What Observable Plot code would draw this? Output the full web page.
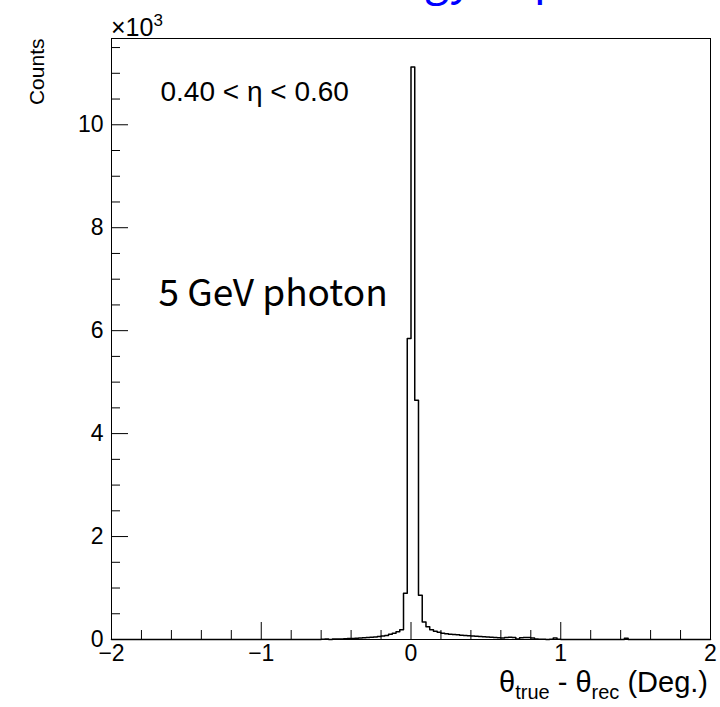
<!DOCTYPE html>
<html><head><meta charset="utf-8">
<script src="https://cdn.jsdelivr.net/npm/d3@7"></script>
<script src="https://cdn.jsdelivr.net/npm/@observablehq/plot@0.6"></script>
<style>
body{margin:0;background:#fff;}
#chart{position:relative;width:720px;height:707px;overflow:hidden;}
</style>
</head><body><div id="chart"></div>
<script>
// Histogram binning
const binWidth = 0.025;
const xRange = [-2, 2];
// Non-zero bins (low edge) and their counts
const binLow = [-0.6,-0.575,-0.525,-0.5,-0.475,-0.45,-0.425,-0.4,-0.375,-0.35,-0.325,-0.3,-0.275,-0.25,-0.225,-0.2,-0.175,-0.15,-0.125,-0.1,-0.075,-0.05,-0.025,
  0,0.025,0.05,0.075,0.1,0.125,0.15,0.175,0.2,0.225,0.25,0.275,0.3,0.325,0.35,0.375,0.4,0.425,0.45,0.475,0.5,0.525,0.55,0.575,0.6,0.625,0.65,0.675,0.7,0.725,0.75,0.775,0.8,0.825,0.85,0.875,0.925,0.95,0.975,1.425];
const binCount = [5,8,10,12,10,15,18,20,25,30,35,40,45,50,60,70,80,100,120,150,190,900,5850,
  11120,4650,860,340,250,190,160,140,120,110,100,95,90,85,80,75,70,65,60,55,50,45,40,35,30,40,45,40,10,35,40,40,30,10,5,5,5,30,5,25];
// Axis ticks
const xMajorTicks = [-2,-1,0,1,2];
const xMinorTicks = [-1.8,-1.6,-1.4,-1.2,-0.8,-0.6,-0.4,-0.2,0.2,0.4,0.6,0.8,1.2,1.4,1.6,1.8];
const yMajorTicks = [0,2000,4000,6000,8000,10000];
const yMinorTicks = [500,1000,1500,2500,3000,3500,4500,5000,5500,6500,7000,7500,8500,9000,9500,10500,11000,11500];
const yMax = 11676;
// Texts
const titleText = "Energy dependence";
const etaText = "0.40 < η < 0.60";
const particleText = "5 GeV photon";
const yLabel = "Counts";

// build step outline from bins
const countByBin = new Map(binLow.map((b, i) => [Math.round(b * 1000), binCount[i]]));
const nBins = Math.round((xRange[1] - xRange[0]) / binWidth);
const stepPoints = [];
for (let i = 0; i < nBins; i++) {
  const lo = xRange[0] + i * binWidth;
  stepPoints.push({x: lo, y: countByBin.get(Math.round(lo * 1000)) || 0});
}
stepPoints.push({x: xRange[1], y: stepPoints[stepPoints.length - 1].y});

const W = 720, H = 707, mL = 111, mR = 10, mT = 38, mB = 68;
const innerW = W - mL - mR, innerH = H - mT - mB;
const fmtX = d => d < 0 ? "\u2212" + Math.abs(d) : String(d);
const helv = "'Liberation Sans', Arial, sans-serif";

const chart = Plot.plot({
  width: W, height: H,
  marginLeft: mL, marginRight: mR, marginTop: mT, marginBottom: mB,
  x: {domain: xRange},
  y: {domain: [0, yMax]},
  style: {fontFamily: helv, background: "white", color: "black", overflow: "visible"},
  marks: [
    Plot.line(stepPoints, {x: "x", y: "y", curve: "step-after", stroke: "black", strokeWidth: 1.5}),
    Plot.tickX(xMajorTicks, {x: d => d, insetTop: innerH - 17, stroke: "black"}),
    Plot.tickX(xMinorTicks, {x: d => d, insetTop: innerH - 9, stroke: "black"}),
    Plot.tickY(yMajorTicks, {y: d => d, insetRight: innerW - 17, stroke: "black"}),
    Plot.tickY(yMinorTicks, {y: d => d, insetRight: innerW - 9, stroke: "black"}),
    Plot.frame({stroke: "black", strokeWidth: 1}),
    Plot.axisX(xMajorTicks, {tickSize: 0, tickPadding: 5, fontSize: 23, tickFormat: fmtX, label: null}),
    Plot.axisY(yMajorTicks, {tickSize: 0, tickPadding: 8, fontSize: 23, tickFormat: d => String(d / 1000), label: null}),
    Plot.text([etaText], {text: d => d, frameAnchor: "top-left", dx: 49, dy: 54, textAnchor: "start", lineAnchor: "middle", fontSize: 28, fill: "black"}),
    Plot.text([particleText], {text: d => d, frameAnchor: "top-left", dx: 47, dy: 256, textAnchor: "start", lineAnchor: "middle", fontSize: 37, fill: "black", fontFamily: "'Noto Sans CJK KR', 'Noto Sans', sans-serif", letterSpacing: 2.7}),
    Plot.text([yLabel], {text: d => d, frameAnchor: "top-left", dx: -74, dy: 0, rotate: -90, textAnchor: "end", lineAnchor: "middle", fontSize: 21, fill: "black"})
  ]
});
document.getElementById("chart").appendChild(chart);

const svg = d3.select(chart);
// exponent label
const ex = svg.append("text").attr("x", mL).attr("y", 36).attr("text-anchor", "start")
  .style("font-size", "25px").attr("fill", "black").style("font-family", helv);
ex.append("tspan").text("\u00d710");
ex.append("tspan").style("font-size", "17px").attr("dy", -10).text("3");
// x-axis title
const xt = svg.append("text").attr("x", 708).attr("y", 692).attr("text-anchor", "end")
  .style("font-size", "29px").attr("fill", "black").style("font-family", helv);
xt.append("tspan").text("\u03b8");
xt.append("tspan").style("font-size", "20px").attr("dy", 7).text("true");
xt.append("tspan").attr("dy", -7).text(" - \u03b8");
xt.append("tspan").style("font-size", "20px").attr("dy", 7).text("rec");
xt.append("tspan").attr("dy", -7).text(" (Deg.)");
// partially visible title (cut off by the top edge; only descenders show)
svg.append("text").attr("x", 330).attr("y", -5).attr("text-anchor", "start").style("font-size", "44px").attr("fill", "#0000ff")
  .style("font-family", "'Noto Sans CJK KR', 'Noto Sans', sans-serif").text(titleText);
</script>
</body></html>
